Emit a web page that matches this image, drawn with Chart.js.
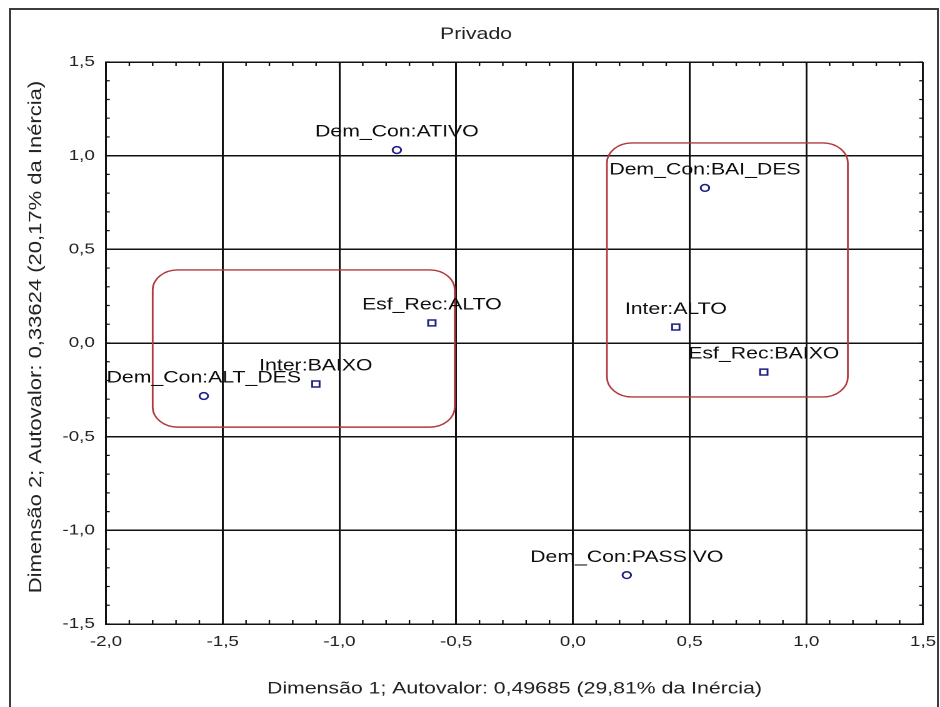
<!DOCTYPE html>
<html>
<head>
<meta charset="utf-8">
<title>Privado</title>
<script src="https://cdn.jsdelivr.net/npm/chart.js@4.4.0/dist/chart.umd.min.js"></script>
<style>
  html, body { margin: 0; padding: 0; background: #fff; }
  /* the reference graph is stretched sideways, so the chart is drawn narrow and scaled */
  #wrap { position: absolute; left: 0; top: 0; width: 752px; height: 707px; transform: scaleX(1.25); transform-origin: 0 0; }
  #frame { position: absolute; left: 9px; top: 8px; width: 926px; height: 720px; border: 2px solid #3c3c3c; border-bottom: none; pointer-events: none; }
</style>
</head>
<body>
<div id="wrap"><canvas id="chart" width="752" height="707"></canvas></div>
<div id="frame"></div>
<script>
const pontos = ["Dem_Con:ATIVO", "Dem_Con:BAI_DES", "Esf_Rec:ALTO", "Inter:ALTO",
                "Esf_Rec:BAIXO", "Inter:BAIXO", "Dem_Con:ALT_DES", "Dem_Con:PASSIVO"];
const dim1 = [-0.754, 0.566, -0.604, 0.441, 0.818, -1.101, -1.581, 0.231];
const dim2 = [1.030, 0.828, 0.107, 0.085, -0.155, -0.219, -0.283, -1.239];
const marcador = ["circle", "circle", "rect", "rect", "rect", "rect", "circle", "circle"];

// grupos marcados em vermelho (limites em unidades das dimensões)
const grupoXmin = [-1.80, 0.146];
const grupoXmax = [-0.506, 1.178];
const grupoYmin = [-0.449, -0.288];
const grupoYmax = [0.390, 1.068];

const xTicks = [-2.0, -1.5, -1.0, -0.5, 0.0, 0.5, 1.0, 1.5];
const yTicks = [-1.5, -1.0, -0.5, 0.0, 0.5, 1.0, 1.5];
const passoMenor = 0.1;

const tituloY = 'Dimensão 2; Autovalor: 0,33624 (20,17% da Inércia)';

const fonte = "'Liberation Sans', Arial, sans-serif";
const virgula = v => Number(v).toFixed(1).replace('.', ',');

// pequenos traços internos nas quatro bordas
const tracos = {
    id: 'tracos',
    afterDraw(chart) {
        const ctx = chart.ctx;
        const a = chart.chartArea;
        const sx = chart.scales.x, sy = chart.scales.y;
        ctx.save();
        ctx.strokeStyle = '#111';
        ctx.lineWidth = 1.2;
        ctx.beginPath();
        for (let v = sx.min; v <= sx.max + 1e-9; v += passoMenor) {
            const px = sx.getPixelForValue(v);
            ctx.moveTo(px, a.top); ctx.lineTo(px, a.top + 4);
            ctx.moveTo(px, a.bottom); ctx.lineTo(px, a.bottom - 4);
        }
        for (let v = sy.min; v <= sy.max + 1e-9; v += passoMenor) {
            const py = sy.getPixelForValue(v);
            ctx.moveTo(a.left, py); ctx.lineTo(a.left + 3, py);
            ctx.moveTo(a.right, py); ctx.lineTo(a.right - 3, py);
        }
        ctx.stroke();
        ctx.restore();
    }
};

// título do eixo Y, comprimido para não ficar engrossado pelo esticamento
const eixoY = {
    id: 'eixoY',
    afterDraw(chart) {
        const ctx = chart.ctx;
        const a = chart.chartArea;
        ctx.save();
        ctx.translate(28.8, (a.top + a.bottom) / 2 - 6);
        ctx.scale(0.68, 1);
        ctx.rotate(-Math.PI / 2);
        ctx.font = '22px ' + fonte;
        ctx.fillStyle = '#222';
        ctx.textAlign = 'center';
        ctx.textBaseline = 'middle';
        ctx.fillText(tituloY, 0, 0);
        ctx.restore();
    }
};

const grupos = {
    id: 'grupos',
    afterDatasetsDraw(chart) {
        const ctx = chart.ctx;
        const sx = chart.scales.x, sy = chart.scales.y;
        ctx.save();
        ctx.strokeStyle = '#b23a3f';
        ctx.lineWidth = 1.4;
        for (let i = 0; i < grupoXmin.length; i++) {
            const x1 = sx.getPixelForValue(grupoXmin[i]);
            const x2 = sx.getPixelForValue(grupoXmax[i]);
            const y1 = sy.getPixelForValue(grupoYmax[i]);
            const y2 = sy.getPixelForValue(grupoYmin[i]);
            ctx.beginPath();
            ctx.roundRect(x1, y1, x2 - x1, y2 - y1, 20);
            ctx.stroke();
        }
        ctx.restore();
    }
};

const rotulos = {
    id: 'rotulos',
    afterDatasetsDraw(chart) {
        const ctx = chart.ctx;
        const meta = chart.getDatasetMeta(0);
        ctx.save();
        ctx.font = '17px ' + fonte;
        ctx.fillStyle = '#0d0d0d';
        ctx.textAlign = 'center';
        ctx.textBaseline = 'middle';
        meta.data.forEach((pt, i) => {
            ctx.fillText(pontos[i], pt.x, pt.y - 18);
        });
        ctx.restore();
    }
};

new Chart(document.getElementById('chart'), {
    type: 'scatter',
    data: {
        datasets: [{
            data: dim1.map((x, i) => ({ x: x, y: dim2[i] })),
            pointStyle: marcador,
            pointRadius: marcador.map(m => m === 'rect' ? 4.2 : 3.4),
            pointBackgroundColor: '#ffffff',
            pointBorderColor: '#1f1f86',
            pointBorderWidth: 1.5,
            showLine: false
        }]
    },
    options: {
        responsive: false,
        animation: false,
        devicePixelRatio: 2,
        layout: { padding: { left: 23.2, right: 13.6, top: 0, bottom: 0 } },
        plugins: {
            legend: { display: false },
            tooltip: { enabled: false },
            title: {
                display: true,
                text: 'Privado',
                color: '#222',
                font: { family: fonte, size: 17, weight: 'normal' },
                padding: { top: 24, bottom: 17.6 }
            }
        },
        scales: {
            x: {
                type: 'linear',
                min: -2, max: 1.5,
                afterBuildTicks: s => { s.ticks = xTicks.map(v => ({ value: v })); },
                afterFit: s => { s.height = 83; s.paddingLeft = 0; s.paddingRight = 0; },
                grid: { color: '#111', lineWidth: 1.5, drawTicks: false },
                border: { color: '#111', width: 1.5 },
                ticks: { color: '#222', padding: 9, font: { family: fonte, size: 15 }, callback: virgula },
                title: {
                    display: true,
                    text: 'Dimensão 1; Autovalor: 0,49685 (29,81% da Inércia)',
                    color: '#222',
                    font: { family: fonte, size: 17 },
                    padding: { top: 0, bottom: 7.8 }
                }
            },
            y: {
                type: 'linear',
                min: -1.5, max: 1.5,
                afterBuildTicks: s => { s.ticks = yTicks.map(v => ({ value: v })); },
                afterFit: s => { s.width = 61.6; },
                grid: { color: '#111', lineWidth: 1.5, drawTicks: false },
                border: { color: '#111', width: 1.5 },
                ticks: { color: '#222', padding: 9, font: { family: fonte, size: 15 }, callback: virgula },
                title: { display: false }
            }
        }
    },
    plugins: [grupos, rotulos, tracos, eixoY]
});
</script>
</body>
</html>
